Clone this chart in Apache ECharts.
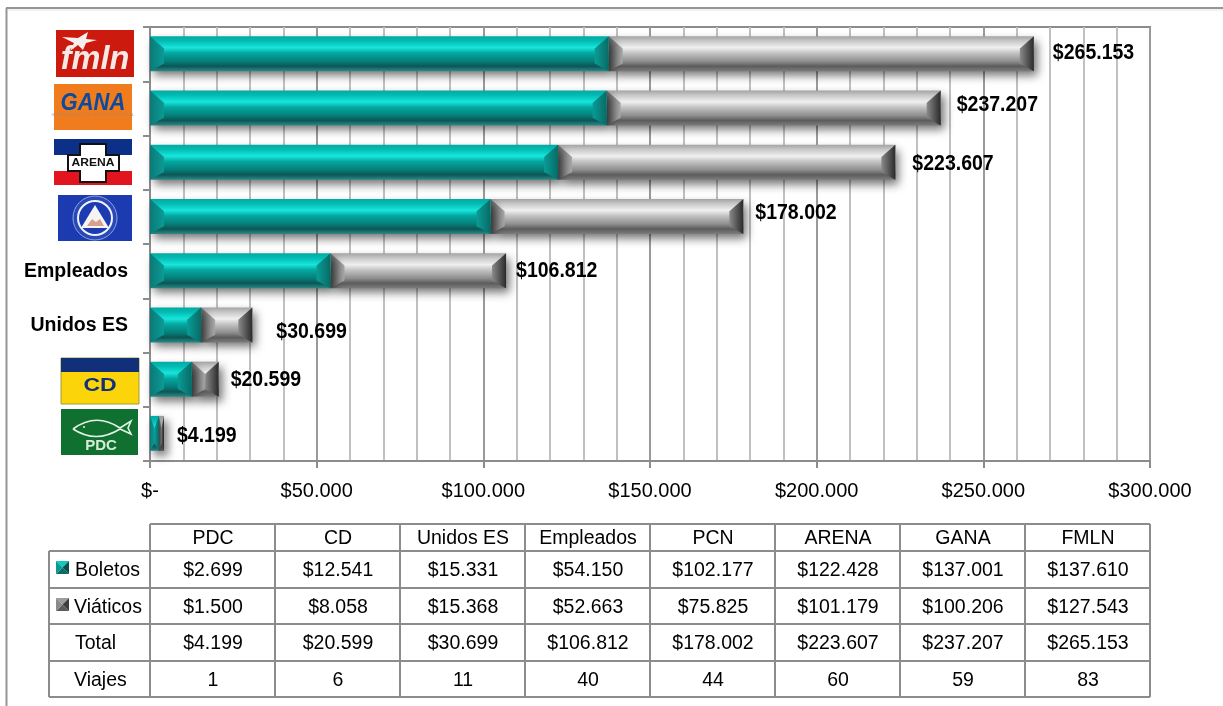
<!DOCTYPE html>
<html><head><meta charset="utf-8">
<script src="https://cdn.jsdelivr.net/npm/echarts@6/dist/echarts.min.js"></script>
<style>html,body{margin:0;padding:0;background:#fff}#c{width:1223px;height:706px}</style>
</head><body><div id="c"></div>
<script>
const categories = ['PDC','CD','Unidos ES','Empleados','PCN','ARENA','GANA','FMLN'];
const boletos  = [2699,12541,15331,54150,102177,122428,137001,137610];
const viaticos = [1500,8058,15368,52663,75825,101179,100206,127543];
const totals   = [4199,20599,30699,106812,178002,223607,237207,265153];
const viajes   = [1,6,11,40,44,60,59,83];
const axisTicks = [0,50000,100000,150000,200000,250000,300000];
const labelGapX = [13,12,24,10,12,17,16,19];
const labelGapY = [2,0,7,0,-4,1,-3,-1];

const FONT = '"Liberation Sans", Arial, sans-serif';
const fmt = v => '$' + String(v).replace(/\B(?=(\d{3})+$)/g, '.');
const vgrad = stops => ({type:'linear',x:0,y:0,x2:0,y2:1,colorStops:stops.map(s=>({offset:s[0],color:s[1]}))});
const hgrad = (a,b) => ({type:'linear',x:0,y:0,x2:1,y2:0,colorStops:[{offset:0,color:a},{offset:1,color:b}]});

const TEAL = {
  body: vgrad([[0,'#05a8a0'],[.14,'#02bcb4'],[.33,'#18e6dc'],[.48,'#04a8a0'],[.72,'#067e7a'],[.86,'#0c5654'],[1,'#2a8a86']]),
  left: hgrad('#0a7a78','#0b9a95'), right: hgrad('#0a9c96','#086a66')
};
const GRAY = {
  body: vgrad([[0,'#a2a2a2'],[.14,'#c8c8c8'],[.33,'#f0f0f0'],[.48,'#c4c4c4'],[.72,'#8e8e8e'],[.86,'#5c5c5c'],[1,'#7c7c7c']]),
  left: hgrad('#6a6a6a','#a8a8a8'), right: hgrad('#8a8a8a','#2a2a2a')
};
function segment(pal, shadow){
  return function(params, api){
    const a = api.coord([api.value(0), api.value(2)]);
    const b = api.coord([api.value(1), api.value(2)]);
    const h = 35, y = a[1]-h/2-0.5, x = a[0], w = b[0]-a[0], d = Math.min(14, w/2);
    const c1 = y+h*0.35, c2 = y+h*0.78;
    const children = [
      {type:'rect',shape:{x,y,width:w,height:h},style:Object.assign({fill:pal.body},
        shadow?{shadowBlur:9,shadowOffsetX:4,shadowOffsetY:5,shadowColor:'rgba(0,0,0,0.55)'}:{})},
      {type:'polygon',shape:{points:[[x,y],[x+d,c1],[x+d,c2],[x,y+h]]},style:{fill:pal.left}},
      {type:'polygon',shape:{points:[[x+w,y],[x+w-d,c1],[x+w-d,c2],[x+w,y+h]]},style:{fill:pal.right}}
    ];
    return {type:'group',children};
  };
}
function totalLabel(params, api){
  const i = api.value(1), p = api.coord([api.value(0), i]);
  return {type:'text',x:p[0]+labelGapX[i],y:p[1]+labelGapY[i],scaleY:1.1,
    style:{text:fmt(api.value(0)),font:'bold 19.5px '+FONT,fill:'#000',align:'left',verticalAlign:'middle'}};
}

/* table + frame + logos are decoration built from the arrays above */
const LINE = '#8c8c8c';
const g = [];
const hl = (x1,x2,y,c,w) => g.push({type:'line',shape:{x1,y1:y,x2,y2:y},style:{stroke:c||LINE,lineWidth:w||2},silent:true});
const vl = (x,y1,y2,c,w) => g.push({type:'line',shape:{x1:x,y1,x2:x,y2},style:{stroke:c||LINE,lineWidth:w||2},silent:true});
const txt = (text,x,y,o) => g.push(Object.assign({type:'text',x,y,scaleY:(o&&o.sy)||1.08,scaleX:(o&&o.sx)||1,
  style:{text,font:(o&&o.font)||('19.5px '+FONT),fill:(o&&o.fill)||'#000',align:(o&&o.align)||'center',verticalAlign:'middle'}}));
const rect = (x,y,w,h,fill,stroke) => g.push({type:'rect',shape:{x,y,width:w,height:h},style:{fill,stroke:stroke||null,lineWidth:stroke?1:0}});

// frame
hl(6,1223,8,'#969696',2); hl(8,1223,10,'#e4e4e4',1); vl(6.5,8,706,'#969696',2);

// table
const colX = [150,275,400,525,650,775,900,1025,1150];
const rowY = [524,551,588,624,661,697];
const rowMid = [538,570,607,643,680];
hl(150,1150,rowY[0]);
rowY.slice(1).forEach(y=>hl(49,1150,y));
vl(49,551,697);
colX.forEach(x=>vl(x,524,697));
const rows = [categories, boletos.map(fmt), viaticos.map(fmt), totals.map(fmt), viajes.map(String)];
rows.forEach((r,ri)=>r.forEach((t,ci)=>txt(t,(colX[ci]+colX[ci+1])/2+0.5,rowMid[ri])));
txt('Boletos',75,570,{align:'left'}); txt('Viáticos',74,607,{align:'left'});
txt('Total',75,643,{align:'left'}); txt('Viajes',74,680,{align:'left'});
function key(x,y,pal){
  const s=13,m=6.5;
  g.push({type:'polygon',shape:{points:[[x,y],[x+s,y],[x+m,y+m]]},style:{fill:pal[0]}});
  g.push({type:'polygon',shape:{points:[[x,y+s],[x+s,y+s],[x+m,y+m]]},style:{fill:pal[1]}});
  g.push({type:'polygon',shape:{points:[[x,y],[x,y+s],[x+m,y+m]]},style:{fill:pal[2]}});
  g.push({type:'polygon',shape:{points:[[x+s,y],[x+s,y+s],[x+m,y+m]]},style:{fill:pal[3]}});
}
key(56,561,['#0fc8be','#0a6c68','#0a9a94','#0a4e4c']);
key(56,598,['#9c9c9c','#5c5c5c','#8a8a8a','#3e3e3e']);

// logos
rect(56,30,78,47,'#cc1a0e');
g.push({type:'polygon',shape:{points:[[62,37],[78,38],[88,32],[86,39],[97,40],[86,43],[83,50],[78,45],[70,51],[74,43]]},style:{fill:'#f5f0ee'}});
txt('fmln',95,60,{font:'italic bold 31px '+FONT,fill:'#f5e9e6',sy:1.05,sx:1.05});
rect(54,84,78,46,'#f07c1e');
txt('GANA',93,103,{font:'italic bold 22px '+FONT,fill:'#0b4a9e',sy:1.1});
txt('GRAN ALIANZA POR LA UNIDAD NACIONAL',93,115,{font:'4px '+FONT,fill:'#b8875c',sy:1});
rect(54,139,78,46,'#fff'); rect(54,139,78,16,'#0c2f88'); rect(54,171,78,14,'#e2141e');
g.push({type:'polygon',shape:{points:[[80,144],[106,144],[106,155],[119,155],[119,171],[106,171],[106,182],[80,182],[80,171],[68,171],[68,155],[80,155]]},style:{fill:'#fff',stroke:'#111',lineWidth:2}});
txt('ARENA',93,163,{font:'bold 11.5px '+FONT,fill:'#111',sx:1.05,sy:1});
rect(58,195,74,46,'#1c3bb0');
g.push({type:'circle',shape:{cx:95,cy:218,r:22},style:{fill:'#2a49b6',stroke:'#8ca4de',lineWidth:1}});
g.push({type:'circle',shape:{cx:95,cy:218,r:17},style:{fill:'#1c3bb0',stroke:'#eef2ff',lineWidth:2}});
g.push({type:'polygon',shape:{points:[[95,205],[109,228],[81,228]]},style:{fill:'#f4f4f4'}});
g.push({type:'polygon',shape:{points:[[87,226],[92,219],[96,222],[100,219],[104,226]]},style:{fill:'#d8a08c'}});
rect(61,358,78,46,'#fbd50a','#a39a3a'); rect(61,358,78,14,'#12307a');
txt('CD',100,386,{font:'bold 23px '+FONT,fill:'#12307a',sy:0.8});
rect(61,409,77,46,'#10702f');
const fishStyle = {fill:null,stroke:'#e4f2e6',lineWidth:1.6};
g.push({type:'bezierCurve',shape:{x1:73,y1:429,x2:120,y2:428,cpx1:96,cpy1:412},style:fishStyle});
g.push({type:'bezierCurve',shape:{x1:73,y1:429,x2:120,y2:429,cpx1:96,cpy1:444},style:fishStyle});
g.push({type:'polyline',shape:{points:[[120,428],[131,421],[128,428],[131,434],[120,429]]},style:fishStyle});
g.push({type:'circle',shape:{cx:84,cy:427,r:1},style:{fill:'#e4f2e6'}});
txt('PDC',101,446,{font:'bold 15px '+FONT,fill:'#d8ecd8',sy:1});

const chart = echarts.init(document.getElementById('c'),null,{renderer:'canvas'});
chart.setOption({
  animation:false,
  backgroundColor:'#fff',
  graphic:g,
  grid:{left:150,right:73,top:27,bottom:245,show:true,borderColor:'#8c8c8c',borderWidth:2,backgroundColor:'transparent'},
  xAxis:{type:'value',min:axisTicks[0],max:axisTicks[axisTicks.length-1],interval:50000,
    axisLine:{show:true,lineStyle:{color:'#8c8c8c',width:2}},
    axisTick:{show:true,length:7,lineStyle:{color:'#8c8c8c',width:2}},
    axisLabel:{margin:20,fontFamily:'"Liberation Sans", Arial, sans-serif',fontSize:20,color:'#000',
      formatter:v=>v===0?'$-':fmt(v),showMinLabel:true,showMaxLabel:true},
    splitLine:{show:true,lineStyle:{color:'#9a9a9a',width:2}},
    minorTick:{show:false,splitNumber:5},
    minorSplitLine:{show:true,lineStyle:{color:'#c0c0c0',width:2}}},
  yAxis:{type:'category',data:categories,
    axisLine:{show:true,lineStyle:{color:'#8c8c8c',width:2}},
    axisTick:{show:true,length:7,lineStyle:{color:'#8c8c8c',width:2}},
    axisLabel:{margin:22,fontFamily:'"Liberation Sans", Arial, sans-serif',fontSize:19.5,fontWeight:'bold',color:'#000',
      formatter:v=>(v==='Empleados'||v==='Unidos ES')?v:''},
    splitLine:{show:false}},
  series:[
    {type:'custom',name:'Viáticos',renderItem:segment(GRAY,true),encode:{x:[0,1],y:2},z:3,
      data:viaticos.map((v,i)=>[boletos[i],boletos[i]+v,i])},
    {type:'custom',name:'Boletos',renderItem:segment(TEAL,true),encode:{x:[0,1],y:2},z:4,
      data:boletos.map((v,i)=>[0,v,i])},
    {type:'custom',name:'Total',renderItem:totalLabel,encode:{x:0,y:1},z:5,
      data:totals.map((v,i)=>[v,i])}
  ]
});
</script></body></html>
